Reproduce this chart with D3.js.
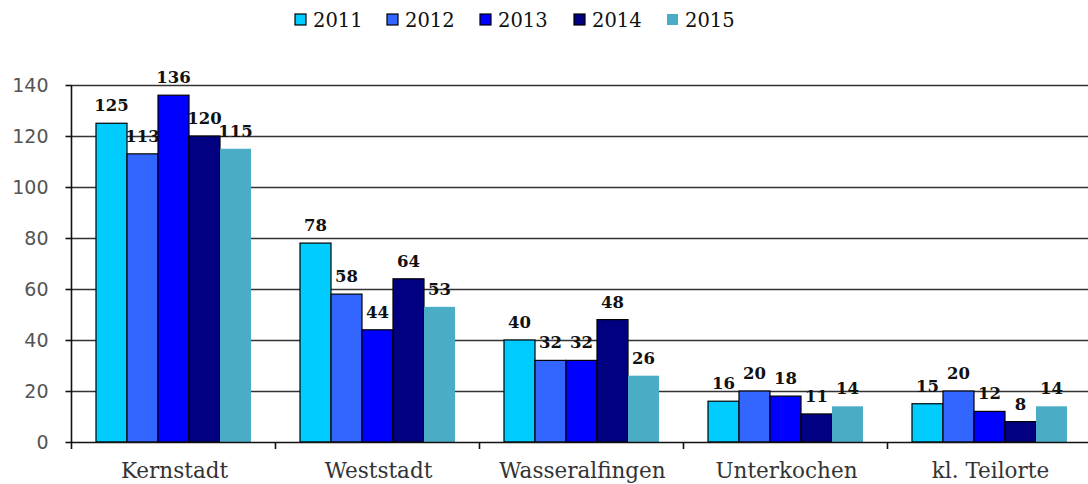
<!DOCTYPE html>
<html>
<head>
<meta charset="utf-8">
<script src="https://cdn.jsdelivr.net/npm/d3@7/dist/d3.min.js"></script>
<style>
  html, body { margin: 0; padding: 0; background: #fff; }
  svg { display: block; }
</style>
</head>
<body>
<svg id="chart" width="1088" height="484"></svg>
<script>
// Districts and yearly counts
const districts = ["Kernstadt", "Weststadt", "Wasseralfingen", "Unterkochen", "kl. Teilorte"];
const years = ["2011", "2012", "2013", "2014", "2015"];
const values2011 = [125, 78, 40, 16, 15];
const values2012 = [113, 58, 32, 20, 20];
const values2013 = [136, 44, 32, 18, 12];
const values2014 = [120, 64, 48, 11, 8];
const values2015 = [115, 53, 26, 14, 14];
const yTicks = [0, 20, 40, 60, 80, 100, 120, 140];

const seriesValues = [values2011, values2012, values2013, values2014, values2015];
const colors = ["#00CCFF", "#3366FF", "#0000FF", "#000080", "#4BACC6"];
const strokes = ["#000", "#000", "#000", "#000", "none"];

const svg = d3.select("#chart");
const plotLeft = 71.5, plotRight = 1091.5, plotTop = 85, plotBottom = 442;

const x0 = d3.scaleBand().domain(districts).range([plotLeft, plotRight]).padding(0);
const x1 = d3.scaleBand().domain(years).range([24.5, 179.5]).padding(0);
const y = d3.scaleLinear().domain([0, 140]).range([plotBottom, plotTop]);

const serif = "'DejaVu Serif', serif";

// Horizontal gridlines
svg.append("g")
  .selectAll("line")
  .data(yTicks.filter(t => t > 0))
  .join("line")
  .attr("x1", plotLeft).attr("x2", 1088)
  .attr("y1", d => Math.round(y(d)) + 0.5).attr("y2", d => Math.round(y(d)) + 0.5)
  .attr("stroke", "#333").attr("stroke-width", 1.6);

// Bars
const groups = svg.append("g")
  .selectAll("g")
  .data(districts)
  .join("g")
  .attr("transform", d => `translate(${x0(d)},0)`);

groups.selectAll("rect")
  .data((d, i) => years.map((yr, j) => ({ yr, j, v: seriesValues[j][i] })))
  .join("rect")
  .attr("x", d => x1(d.yr))
  .attr("y", d => y(d.v))
  .attr("width", x1.bandwidth())
  .attr("height", d => y(0) - y(d.v))
  .attr("fill", d => colors[d.j])
  .attr("stroke", d => strokes[d.j])
  .attr("stroke-width", 1.2);

// Value labels
groups.selectAll("text")
  .data((d, i) => years.map((yr, j) => ({ yr, j, v: seriesValues[j][i] })))
  .join("text")
  .attr("x", d => x1(d.yr) + x1.bandwidth() / 2)
  .attr("y", d => y(d.v) - 12)
  .attr("text-anchor", "middle")
  .attr("font-family", serif)
  .attr("font-size", 16.5)
  .attr("font-weight", "bold")
  .attr("fill", "#111")
  .text(d => d.v);

// Y axis
const yAxis = svg.append("g")
  .attr("transform", `translate(${plotLeft},0)`)
  .call(d3.axisLeft(y).tickValues(yTicks).tickSize(6).tickPadding(17).tickFormat(d3.format("d")));
yAxis.select(".domain").attr("stroke", "#111").attr("stroke-width", 1.6).attr("d", `M0,${plotTop}V${plotBottom}`);
yAxis.selectAll(".tick line").attr("stroke", "#111").attr("stroke-width", 1.6);
yAxis.selectAll(".tick text")
  .attr("font-family", "'DejaVu Sans', sans-serif")
  .attr("font-size", 19)
  .attr("fill", "#555");

// X axis baseline with ticks between categories
const xAxis = svg.append("g").attr("transform", `translate(0,${plotBottom})`);
xAxis.append("line")
  .attr("x1", plotLeft).attr("x2", 1088)
  .attr("y1", 0.5).attr("y2", 0.5)
  .attr("stroke", "#111").attr("stroke-width", 1.6);
xAxis.selectAll("line.tk")
  .data(districts)
  .join("line")
  .attr("class", "tk")
  .attr("x1", d => x0(d)).attr("x2", d => x0(d))
  .attr("y1", 0).attr("y2", 7)
  .attr("stroke", "#111").attr("stroke-width", 1.6);
xAxis.selectAll("text")
  .data(districts)
  .join("text")
  .attr("x", d => x0(d) + x0.bandwidth() / 2 + 1)
  .attr("y", 36)
  .attr("text-anchor", "middle")
  .attr("font-family", serif)
  .attr("font-size", 21.5)
  .attr("fill", "#333")
  .text(d => d);

// Legend
const legendX = [295, 387, 480, 574, 667];
const legend = svg.append("g")
  .selectAll("g")
  .data(years)
  .join("g")
  .attr("transform", (d, i) => `translate(${legendX[i]},14)`);
legend.append("rect")
  .attr("width", 11).attr("height", 11)
  .attr("fill", (d, i) => colors[i])
  .attr("stroke", (d, i) => strokes[i])
  .attr("stroke-width", 1.2);
legend.append("text")
  .attr("x", 18).attr("y", 12.5)
  .attr("font-family", serif)
  .attr("font-size", 19.5)
  .attr("fill", "#111")
  .text(d => d);
</script>
</body>
</html>
